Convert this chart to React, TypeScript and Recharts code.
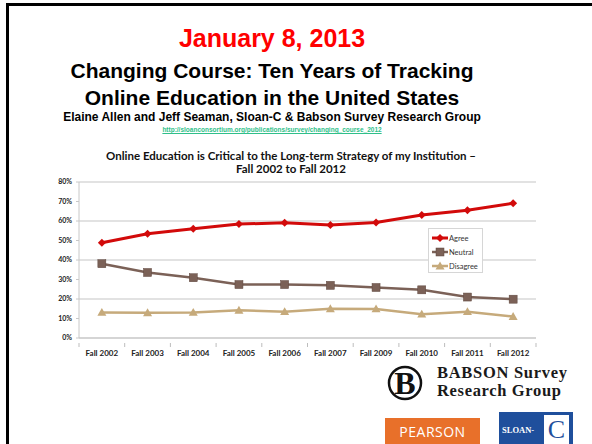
import { LineChart, Line, XAxis, YAxis, CartesianGrid } from 'recharts';

const years = ['Fall 2002', 'Fall 2003', 'Fall 2004', 'Fall 2005', 'Fall 2006', 'Fall 2007', 'Fall 2009', 'Fall 2010', 'Fall 2011', 'Fall 2012'];
const agree = [48.8, 53.5, 56.0, 58.4, 59.1, 58.0, 59.2, 63.1, 65.5, 69.1];
const neutral = [38.1, 33.6, 30.9, 27.4, 27.4, 27.0, 25.9, 24.7, 21.0, 19.9];
const disagree = [13.1, 12.9, 13.1, 14.2, 13.5, 15.0, 14.9, 12.2, 13.5, 11.0];
const yTicks = [0, 10, 20, 30, 40, 50, 60, 70, 80];

const RED = '#d20a0a';
const BROWN = '#7b6157';
const TAN = '#c6aa7b';
const GRID = '#d9d9d9';
const AXIS_FONT = 'Lato, "Open Sans", sans-serif';

const data = years.map((year, i) => ({
  year,
  agree: agree[i],
  neutral: neutral[i],
  disagree: disagree[i],
}));

// plot is 457px wide, 10 categories
const HALF_BAND = 457 / years.length / 2;

function Diamond({ cx, cy, color }: { cx: number; cy: number; color: string }) {
  const r = 4;
  return <path d={`M${cx},${cy - r}L${cx + r},${cy}L${cx},${cy + r}L${cx - r},${cy}Z`} fill={color} />;
}

function Square({ cx, cy, color }: { cx: number; cy: number; color: string }) {
  const r = 4;
  return <rect x={cx - r} y={cy - r} width={r * 2} height={r * 2} fill={color} stroke="#5e463e" strokeWidth={0.5} />;
}

function Triangle({ cx, cy, color }: { cx: number; cy: number; color: string }) {
  const r = 4.5;
  return <path d={`M${cx},${cy - r}L${cx + r},${cy + r * 0.75}L${cx - r},${cy + r * 0.75}Z`} fill={color} />;
}

const XTick = (props: any) => {
  const { x, y, payload, index } = props;
  return (
    <g>
      <line x1={x - HALF_BAND} y1={y - 3} x2={x - HALF_BAND} y2={y + 1} stroke="#bdbdbd" />
      {index === years.length - 1 && (
        <line x1={x + HALF_BAND} y1={y - 3} x2={x + HALF_BAND} y2={y + 1} stroke="#bdbdbd" />
      )}
      <text x={x} y={y + 10} textAnchor="middle" fontSize={8} fontWeight={700} fill="#222" fontFamily={AXIS_FONT}>
        {payload.value}
      </text>
    </g>
  );
};

const legendItems = [
  { name: 'Agree', color: RED, Mark: Diamond, width: 3 },
  { name: 'Neutral', color: BROWN, Mark: Square, width: 2.5 },
  { name: 'Disagree', color: TAN, Mark: Triangle, width: 2.5 },
];

function ChartLegend() {
  return (
    <div
      style={{
        position: 'absolute',
        left: 428,
        top: 228,
        width: 55,
        height: 45,
        boxSizing: 'border-box',
        border: '1px solid #d6d6d6',
        background: '#fff',
        padding: '2px 0 0 2px',
      }}
    >
      {legendItems.map((it) => (
        <div key={it.name} style={{ display: 'flex', alignItems: 'center', height: 14 }}>
          <svg width={18} height={10}>
            <line x1={1} y1={5} x2={17} y2={5} stroke={it.color} strokeWidth={it.width} />
            <it.Mark cx={9} cy={5} color={it.color} />
          </svg>
          <span style={{ fontFamily: AXIS_FONT, fontSize: 7.5, color: '#333' }}>{it.name}</span>
        </div>
      ))}
    </div>
  );
}

export default function App() {
  return (
    <div
      style={{
        position: 'absolute',
        left: 0,
        top: 0,
        width: 592,
        height: 444,
        overflow: 'hidden',
        background: '#fff',
      }}
    >
      <div
        style={{
          position: 'absolute',
          left: 6,
          top: 3,
          width: 600,
          height: 460,
          borderLeft: '3px solid #000',
          borderTop: '3px solid #000',
        }}
      />
      <div style={{ position: 'absolute', left: 0, top: 0, width: 544, textAlign: 'center', fontFamily: '"Liberation Sans", Arial, sans-serif', fontWeight: 700 }}>
        <div style={{ position: 'absolute', left: 0, width: 544, top: 24, fontSize: 25, color: '#ff0000' }}>January 8, 2013</div>
        <div style={{ position: 'absolute', left: 0, width: 544, top: 57, fontSize: 21, color: '#000', lineHeight: '27px' }}>
          Changing Course: Ten Years of Tracking
          <br />
          Online Education in the United States
        </div>
        <div style={{ position: 'absolute', left: 0, width: 544, top: 110, fontSize: 12, color: '#000' }}>
          Elaine Allen and Jeff Seaman, Sloan-C &amp; Babson Survey Research Group
        </div>
        <div style={{ position: 'absolute', left: 0, width: 544, top: 126, fontSize: 6.5, color: '#2fbf8a', textDecoration: 'underline' }}>
          http://sloanconsortium.org/publications/survey/changing_course_2012
        </div>
      </div>

      <div
        style={{
          position: 'absolute',
          left: 0,
          top: 149,
          width: 582,
          textAlign: 'center',
          fontFamily: AXIS_FONT,
          fontWeight: 700,
          fontSize: 11.5,
          lineHeight: '13px',
          color: '#111',
        }}
      >
        Online Education is Critical to the Long-term Strategy of my Institution –
        <br />
        Fall 2002 to Fall 2012
      </div>

      <div style={{ position: 'absolute', left: 0, top: 175 }}>
        <LineChart width={592} height={185} data={data} margin={{ top: 7, right: 56, bottom: 0, left: 0 }}>
          <CartesianGrid vertical={false} stroke={GRID} strokeWidth={1.5} />
          <XAxis
            dataKey="year"
            interval={0}
            padding={{ left: HALF_BAND, right: HALF_BAND }}
            height={22}
            stroke="#c8c8c8"
            tickLine={false}
            tick={<XTick />}
          />
          <YAxis
            domain={[0, 80]}
            ticks={yTicks}
            width={79}
            stroke="#c8c8c8"
            tickSize={3}
            tickMargin={4}
            tickFormatter={(v) => `${v}%`}
            tick={{ fontSize: 7, fontWeight: 700, fill: '#222', fontFamily: AXIS_FONT }}
          />
          <Line
            dataKey="agree"
            name="Agree"
            stroke={RED}
            strokeWidth={3}
            isAnimationActive={false}
            dot={(p: any) => <Diamond key={`a${p.index}`} cx={p.cx} cy={p.cy} color={RED} />}
          />
          <Line
            dataKey="neutral"
            name="Neutral"
            stroke={BROWN}
            strokeWidth={2.5}
            isAnimationActive={false}
            dot={(p: any) => <Square key={`n${p.index}`} cx={p.cx} cy={p.cy} color={BROWN} />}
          />
          <Line
            dataKey="disagree"
            name="Disagree"
            stroke={TAN}
            strokeWidth={2.5}
            isAnimationActive={false}
            dot={(p: any) => <Triangle key={`d${p.index}`} cx={p.cx} cy={p.cy} color={TAN} />}
          />
        </LineChart>
      </div>
      <ChartLegend />

      {/* logos */}
      <svg style={{ position: 'absolute', left: 385, top: 362 }} width={190} height={44}>
        <circle cx={20} cy={21} r={16} fill="none" stroke="#111" strokeWidth={2.5} />
        <text x={20} y={32} textAnchor="middle" fontFamily='"Liberation Serif", serif' fontWeight={700} fontSize={32} fill="#111">
          B
        </text>
        <text x={52} y={16} fontFamily='"Liberation Serif", serif' fontWeight={700} fontSize={16.5} fill="#1a1a1a" textLength={130}>
          BABSON Survey
        </text>
        <text x={52} y={34} fontFamily='"Liberation Serif", serif' fontWeight={700} fontSize={16.5} fill="#1a1a1a" textLength={124}>
          Research Group
        </text>
      </svg>
      <div
        style={{
          position: 'absolute',
          left: 385,
          top: 418,
          width: 95,
          height: 30,
          background: '#e8702a',
          color: '#fff',
          fontFamily: '"Open Sans", sans-serif',
          fontSize: 14,
          lineHeight: '28px',
          textAlign: 'center',
          letterSpacing: 0.5,
        }}
      >
        PEARSON
      </div>
      <div
        style={{
          position: 'absolute',
          left: 499,
          top: 412,
          width: 74,
          height: 36,
          background: '#1f4f9c',
          overflow: 'hidden',
        }}
      >
        <span style={{ position: 'absolute', left: 3, top: 13, color: '#fff', fontFamily: '"Liberation Serif", serif', fontWeight: 700, fontSize: 8.5 }}>
          SLOAN-
        </span>
        <div
          style={{
            position: 'absolute',
            left: 45,
            top: 3,
            width: 25,
            height: 29,
            background: '#fff',
            color: '#1f4f9c',
            fontFamily: '"Liberation Serif", serif',
            fontSize: 26,
            lineHeight: '29px',
            textAlign: 'center',
          }}
        >
          C
        </div>
      </div>
    </div>
  );
}
